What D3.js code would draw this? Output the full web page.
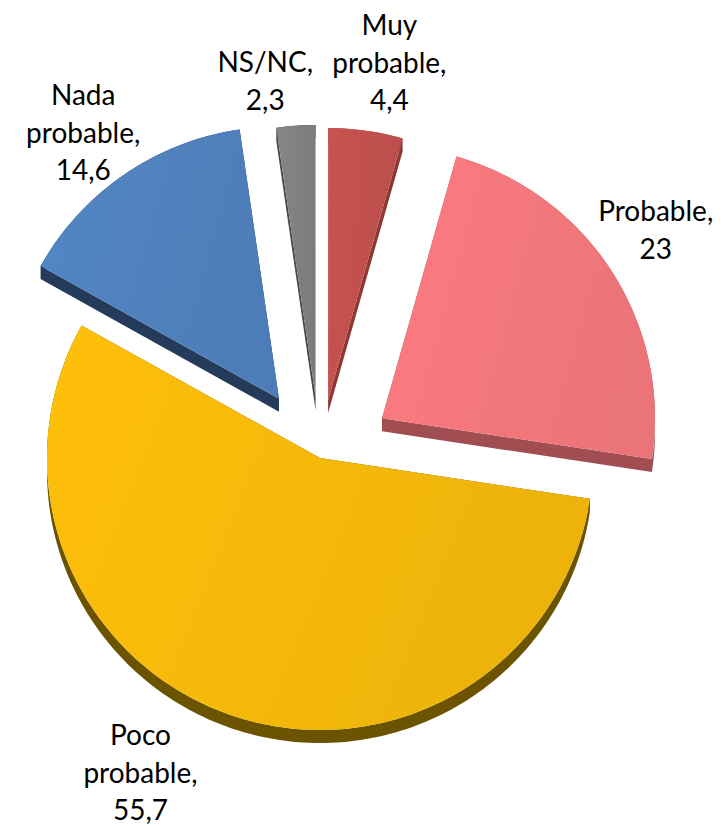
<!DOCTYPE html>
<html>
<head>
<meta charset="utf-8">
<script src="https://cdn.jsdelivr.net/npm/d3@7"></script>
<style>
  body { margin: 0; background: #fff; }
  text { font-family: Lato, "Noto Sans", sans-serif; fill: #000; }
</style>
</head>
<body>
<div id="plot"></div>
<script>
// data
var categories = ["Muy probable", "Probable", "Poco probable", "Nada probable", "NS/NC"];
var values = [4.4, 23, 55.7, 14.6, 2.3];

// styles
var topColors  = ["#C0504D", "#F2777B", "#F4B80A", "#4F81BD", "#808080"];
var sideColors = ["#8E3836", "#A04E52", "#6B5300", "#253B5C", "#474747"];
var explode    = [0.215, 0.27, 0, 0.265, 0.225];
// label placement: radius (in pie radii) and angle nudge in degrees
var labelR     = [1.474, 1.488, 1.331, 1.477, 1.40];
var labelNudge = [2.0, -1.5, 10.7, -1.4, -4.1];

var width = 726, height = 826;
var rx = 273, ry = 272, cx = 320, cy = 458;
var depth = 13;

var svg = d3.select("div#plot")
  .append("svg")
    .attr("width", width)
    .attr("height", height);

var defs = svg.append("defs");

// pie plane (u, v in radii, v toward viewer) to screen, z = depth below top face
function proj(u, v, z) {
  return [cx + rx * u, cy + ry * v + z];
}
function dir(a) { return [Math.sin(a), -Math.cos(a)]; }

var pie = d3.pie().sort(null).value(function(d) { return d.value; });
var data = categories.map(function(c, i) { return { name: c, value: values[i] }; });
var arcs = pie(data);

arcs.forEach(function(d) {
  var mid = (d.startAngle + d.endAngle) / 2;
  var o = dir(mid).map(function(k) { return k * explode[d.index]; });
  var pts = [o];
  var n = Math.max(4, Math.ceil((d.endAngle - d.startAngle) / 0.02));
  for (var j = 0; j <= n; j++) {
    var a = d.startAngle + (d.endAngle - d.startAngle) * j / n;
    var p = dir(a);
    pts.push([o[0] + p[0], o[1] + p[1]]);
  }
  d.pts = pts;
  d.mid = mid;
  d.order = o[1] - Math.cos(mid) * 0.5;
});

function area(q) {
  var s = 0;
  for (var k = 0; k < q.length; k++) {
    var a = q[k], b = q[(k + 1) % q.length];
    s += a[0] * b[1] - b[0] * a[1];
  }
  return s;
}

var line = d3.line();

// back to front
var sorted = arcs.slice().sort(function(a, b) { return a.order - b.order; });

sorted.forEach(function(d) {
  var i = d.index;
  var g = svg.append("g").attr("class", "slice");

  var grad = defs.append("linearGradient")
    .attr("id", "grad" + i)
    .attr("x1", "0%").attr("x2", "100%").attr("y1", "0%").attr("y2", "30%");
  grad.append("stop").attr("offset", "0%")
    .attr("stop-color", d3.color(topColors[i]).brighter(0.12));
  grad.append("stop").attr("offset", "100%")
    .attr("stop-color", d3.color(topColors[i]).darker(0.08));

  // side: every edge extruded downwards, one path, same winding
  var pts = d.pts.concat([d.pts[0]]);
  var side = "";
  for (var j = 0; j < pts.length - 1; j++) {
    var a = pts[j], b = pts[j + 1];
    var quad = [proj(a[0], a[1], 0), proj(b[0], b[1], 0),
                proj(b[0], b[1], depth), proj(a[0], a[1], depth)];
    if (area(quad) < 0) quad.reverse();
    side += line(quad) + "Z";
  }
  g.append("path")
    .attr("d", side)
    .attr("fill", sideColors[i]);

  // top face
  g.append("path")
    .attr("d", line(d.pts.map(function(p) { return proj(p[0], p[1], 0); })) + "Z")
    .attr("fill", "url(#grad" + i + ")");
});

// labels
var lineH = 37.5;
arcs.forEach(function(d) {
  var i = d.index;
  var a = d.mid + labelNudge[i] * Math.PI / 180;
  var p = dir(a);
  var pos = proj(p[0] * labelR[i], p[1] * labelR[i], 0);
  var lines = (d.data.name + ",").split(" ");
  lines.push(String(d.data.value).replace(".", ","));
  var t = svg.append("text")
    .attr("text-anchor", "middle")
    .attr("font-size", 28);
  lines.forEach(function(s, k) {
    t.append("tspan")
      .attr("x", pos[0])
      .attr("y", pos[1] + (k - (lines.length - 1) / 2) * lineH)
      .attr("dy", "0.35em")
      .text(s);
  });
});
</script>
</body>
</html>
